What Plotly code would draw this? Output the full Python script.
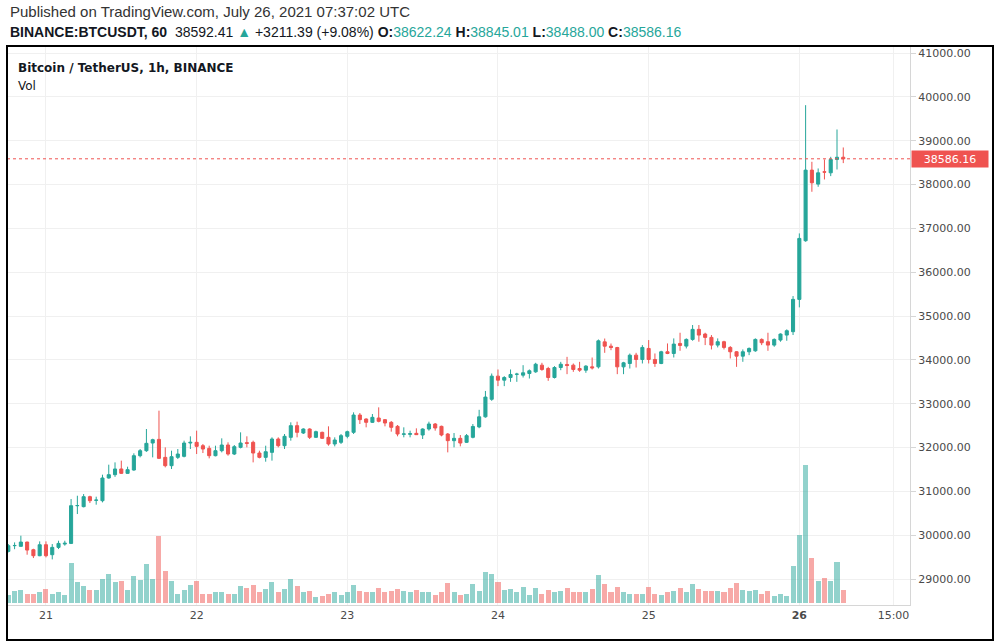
import pandas as pd
import plotly.graph_objects as go

# ---------------- data (BTCUSDT 1h, Binance) ----------------
start_time = "2021-07-20 18:00"
opens = [29630, 29760, 29745, 29843, 29668, 29531, 29782, 29554, 29721, 29797,
         29812, 30672, 30650, 30878, 30795, 30786, 31304, 31380, 31510, 31410,
         31486, 31813, 31927, 32102, 32185, 31775, 31585, 31775, 31798, 32102,
         32118, 32041, 31980, 31813, 31927, 32057, 31851, 32003, 32110, 32118,
         31874, 31775, 31889, 32194, 32041, 32232, 32498, 32330, 32422, 32232,
         32346, 32232, 32080, 32118, 32255, 32346, 32741, 32650, 32574, 32673,
         32635, 32574, 32483, 32300, 32300, 32323, 32285, 32422, 32536, 32483,
         32308, 32156, 32209, 32118, 32232, 32470, 32700, 33100, 33628, 33536,
         33597, 33670, 33650, 33688, 33726, 33878, 33802, 33597, 33825, 33894,
         33878, 33802, 33764, 33840, 33840, 34410, 34312, 34281, 33840, 33916,
         34107, 34008, 34260, 34008, 33917, 34184, 34145, 34374, 34313, 34466,
         34695, 34588, 34512, 34336, 34413, 34283, 34184, 34084, 34184, 34206,
         34466, 34413, 34336, 34451, 34565, 34642, 35379, 36717, 38328, 38009,
         38290, 38267, 38571, 38622.24]
highs = [29797, 29835, 29988, 29850, 29690, 29858, 29858, 29797, 29873, 29873,
         30824, 30900, 30938, 30900, 30878, 31380, 31608, 31661, 31700, 31562,
         31867, 31965, 32422, 32200, 32840, 32003, 31927, 31965, 32156, 32255,
         32384, 32080, 32041, 32041, 32209, 32118, 32057, 32346, 32255, 32156,
         31927, 32041, 32232, 32232, 32308, 32574, 32589, 32437, 32437, 32384,
         32361, 32483, 32232, 32308, 32384, 32802, 32787, 32665, 32764, 32916,
         32650, 32604, 32513, 32460, 32384, 32437, 32437, 32589, 32559, 32498,
         32330, 32330, 32285, 32308, 32536, 32860, 33290, 33688, 33780, 33628,
         33780, 33704, 33878, 33780, 33932, 33932, 33840, 33856, 33954, 34068,
         33916, 33954, 33878, 34053, 34464, 34486, 34372, 34296, 33954, 34144,
         34160, 34336, 34451, 34145, 34206, 34374, 34489, 34618, 34489, 34794,
         34794, 34618, 34565, 34489, 34435, 34313, 34199, 34237, 34283, 34489,
         34489, 34618, 34489, 34603, 34695, 35455, 36884, 39810, 38518, 38366,
         38571, 38632, 39255, 38845.01]
lows = [29607, 29680, 29740, 29554, 29478, 29520, 29493, 29447, 29683, 29760,
        29797, 30482, 30634, 30733, 30695, 30748, 31290, 31330, 31395, 31400,
        31470, 31775, 31900, 31775, 31737, 31547, 31509, 31737, 31775, 31965,
        31851, 31874, 31752, 31798, 31889, 31813, 31828, 31980, 32003, 31661,
        31752, 31676, 31700, 32003, 31965, 32156, 32232, 32308, 32194, 32220,
        32194, 32041, 32026, 32080, 32209, 32308, 32536, 32460, 32559, 32574,
        32483, 32361, 32255, 32232, 32232, 32285, 32194, 32384, 32384, 32255,
        31889, 32003, 32026, 32102, 32209, 32440, 32680, 33065, 33400, 33400,
        33498, 33498, 33597, 33574, 33704, 33750, 33521, 33574, 33764, 33673,
        33726, 33726, 33704, 33780, 33802, 34160, 34220, 33673, 33673, 33802,
        33825, 33917, 33917, 33840, 33901, 34130, 34054, 34206, 34260, 34435,
        34413, 34336, 34237, 34283, 34237, 34031, 33840, 33955, 34107, 34184,
        34336, 34206, 34298, 34413, 34435, 34566, 35197, 36694, 37834, 37948,
        38115, 38191, 38343, 38488.00]
closes = [29760, 29765, 29843, 29660, 29531, 29782, 29531, 29721, 29812, 29815,
          30672, 30676, 30878, 30786, 30800, 31304, 31380, 31510, 31410, 31494,
          31813, 31927, 32095, 32178, 31752, 31585, 31790, 31851, 32102, 32118,
          32026, 31965, 31813, 31927, 32057, 31851, 32019, 32102, 32095, 31874,
          31775, 31904, 32194, 32041, 32255, 32498, 32346, 32422, 32232, 32361,
          32209, 32080, 32171, 32270, 32361, 32741, 32635, 32574, 32688, 32597,
          32559, 32460, 32308, 32310, 32316, 32293, 32422, 32536, 32445, 32285,
          32156, 32209, 32102, 32270, 32480, 32700, 33150, 33628, 33536, 33597,
          33666, 33673, 33704, 33750, 33900, 33780, 33597, 33825, 33900, 33870,
          33780, 33764, 33856, 33818, 34433, 34312, 34281, 33840, 33932, 34106,
          34008, 34283, 34008, 33917, 34184, 34145, 34359, 34328, 34466, 34695,
          34565, 34512, 34336, 34413, 34283, 34184, 34084, 34184, 34260, 34466,
          34390, 34336, 34466, 34588, 34664, 35379, 36770, 38328, 38039, 38267,
          38282, 38571, 38622, 38586.16]
volumes = [830, 1170, 1330, 930, 930, 1070, 1430, 930, 1070, 830,
           4000, 2070, 1670, 1330, 1330, 2430, 2930, 2070, 2170, 1330,
           2670, 2270, 3930, 2430, 6670, 3230, 2230, 930, 1330, 1830,
           2230, 930, 930, 1070, 1130, 930, 930, 1730, 1500, 1830,
           1130, 1430, 2130, 1130, 1430, 2430, 1730, 1070, 1230, 630,
           730, 930, 1070, 830, 1130, 1830, 1230, 1070, 1070, 1530,
           1130, 1230, 1430, 1230, 1130, 1330, 1130, 1130, 830, 1130,
           2030, 1070, 830, 930, 1930, 1230, 3130, 2930, 2130, 1330,
           1430, 1130, 1630, 830, 1530, 930, 1330, 1070, 1230, 1530,
           1070, 1130, 1070, 1430, 2830, 1930, 1070, 1630, 1130, 930,
           930, 930, 1630, 930, 830, 1070, 1230, 1530, 1130, 1930,
           1430, 1230, 1230, 1230, 1070, 1530, 2030, 1330, 1230, 1330,
           930, 1230, 730, 930, 730, 3730, 6830, 13830, 4530, 2230,
           2530, 2230, 4130, 1330]

y_tick_values = [29000, 30000, 31000, 32000, 33000, 34000, 35000, 36000, 37000, 38000, 39000, 40000, 41000]
x_tick_values = ["2021-07-21", "2021-07-22", "2021-07-23", "2021-07-24", "2021-07-25", "2021-07-26", "2021-07-26 15:00"]
x_tick_labels = ["21", "22", "23", "24", "25", "<b>26</b>", "15:00"]
last_price = 38586.16

# ---------------- styling ----------------
UP = "#26a69a"
DOWN = "#ef5350"
UP_VOL = "rgba(38,166,154,0.5)"
DOWN_VOL = "rgba(239,83,80,0.5)"
GRID = "#f0f0f0"
TXT = "#4a4a4a"
W, H = 996, 642
L_PX, R_PX, T_PX, B_PX = 7, 910, 45, 605

times = pd.date_range(start_time, periods=len(opens), freq="h")
vol_colors = [UP_VOL if c >= o else DOWN_VOL for o, c in zip(opens, closes)]


def px_x(px):
    return (px - L_PX) / (R_PX - L_PX)


def px_y(py):
    return (B_PX - py) / (B_PX - T_PX)


fig = go.Figure()
fig.add_trace(go.Bar(
    x=times, y=volumes, marker=dict(color=vol_colors, line=dict(width=0)),
    width=0.8 * 3600 * 1000, yaxis="y2", hoverinfo="skip", showlegend=False))
fig.add_trace(go.Candlestick(
    x=times, open=opens, high=highs, low=lows, close=closes,
    increasing=dict(line=dict(color=UP, width=1), fillcolor=UP),
    decreasing=dict(line=dict(color=DOWN, width=1), fillcolor=DOWN),
    whiskerwidth=0, showlegend=False))

t0 = pd.Timestamp(start_time)
hour_px = 6.278
x_left = t0 - pd.Timedelta(hours=(8.3 - L_PX) / hour_px)
x_right = t0 + pd.Timedelta(hours=(R_PX - 8.3) / hour_px)

px_per_k = 43.83
y_top = 41000 + (53 - T_PX) / px_per_k * 1000
y_bot = 29000 - (B_PX - 579) / px_per_k * 1000

vol_per_px = 100
vol_bot = -(B_PX - 603) * vol_per_px
vol_top = vol_bot + (B_PX - T_PX) * vol_per_px

fig.update_layout(
    width=W, height=H,
    margin=dict(l=L_PX, r=W - R_PX, t=T_PX, b=H - B_PX, autoexpand=False),
    paper_bgcolor="white", plot_bgcolor="white",
    font=dict(family="DejaVu Sans", size=11, color=TXT),
    bargap=0,
    xaxis=dict(
        type="date", range=[x_left, x_right], rangeslider=dict(visible=False),
        tickvals=x_tick_values, ticktext=x_tick_labels,
        showgrid=True, gridcolor=GRID, gridwidth=1,
        showline=True, linecolor="#d6d6d6", linewidth=1,
        ticks="", tickfont=dict(family="DejaVu Sans", size=11, color=TXT),
        zeroline=False, fixedrange=True, automargin=False),
    yaxis=dict(
        side="right", range=[y_bot, y_top], tickvals=y_tick_values,
        tickformat=".2f", showgrid=True, gridcolor=GRID, gridwidth=1,
        showline=True, linecolor="#d6d6d6", linewidth=1,
        ticks="outside", ticklen=5, tickcolor="#d6d6d6",
        tickfont=dict(family="DejaVu Sans", size=11, color=TXT),
        zeroline=False, automargin=False),
    yaxis2=dict(overlaying="y", range=[vol_bot, vol_top], visible=False,
                showgrid=False, zeroline=False),
)

# last price dotted line and label
fig.add_shape(type="line", xref="paper", yref="y", x0=0, x1=1, y0=last_price, y1=last_price,
              line=dict(color=DOWN, width=1, dash="dot"))
fig.add_annotation(xref="paper", yref="y", x=1, y=last_price, xanchor="left", yanchor="middle",
                   xshift=1, text=f"{last_price:.2f}", showarrow=False, bgcolor=DOWN,
                   font=dict(color="white", size=11, family="DejaVu Sans"),
                   width=72, height=12, borderpad=2)

# outer frame
fig.add_shape(type="rect", xref="paper", yref="paper",
              x0=px_x(7), x1=px_x(993), y0=px_y(640), y1=px_y(46),
              line=dict(color="#000000", width=2), fillcolor="rgba(0,0,0,0)", layer="above")

# header texts
HDR_FONT = "Liberation Sans Narrow, Liberation Sans, Arial"
fig.add_annotation(xref="paper", yref="paper", x=px_x(8), y=px_y(12), xanchor="left", yanchor="middle",
                   text="Published on TradingView.com, July 26, 2021 07:37:02 UTC", showarrow=False,
                   font=dict(family=HDR_FONT, size=15, color="#333333"))
g = f"<span style='color:{UP}'>"
hdr2 = ("<b>BINANCE:BTCUSDT, 60</b>  38592.41 " + g + "▲</span> +3211.39 (+9.08%) "
        "<b>O:</b>" + g + "38622.24</span> <b>H:</b>" + g + "38845.01</span> "
        "<b>L:</b>" + g + "38488.00</span> <b>C:</b>" + g + "38586.16</span>")
fig.add_annotation(xref="paper", yref="paper", x=px_x(8), y=px_y(32), xanchor="left", yanchor="middle",
                   text=hdr2, showarrow=False, font=dict(family=HDR_FONT, size=14, color="#131722"))

# in-pane legend
fig.add_annotation(xref="paper", yref="paper", x=px_x(16), y=px_y(68), xanchor="left", yanchor="middle",
                   text="<b>Bitcoin / TetherUS, 1h, BINANCE</b>", showarrow=False,
                   font=dict(family="DejaVu Sans", size=12, color="#131722"))
fig.add_annotation(xref="paper", yref="paper", x=px_x(16), y=px_y(86), xanchor="left", yanchor="middle",
                   text="Vol", showarrow=False,
                   font=dict(family="DejaVu Sans", size=12, color="#131722"))

fig.write_html("out.html")
